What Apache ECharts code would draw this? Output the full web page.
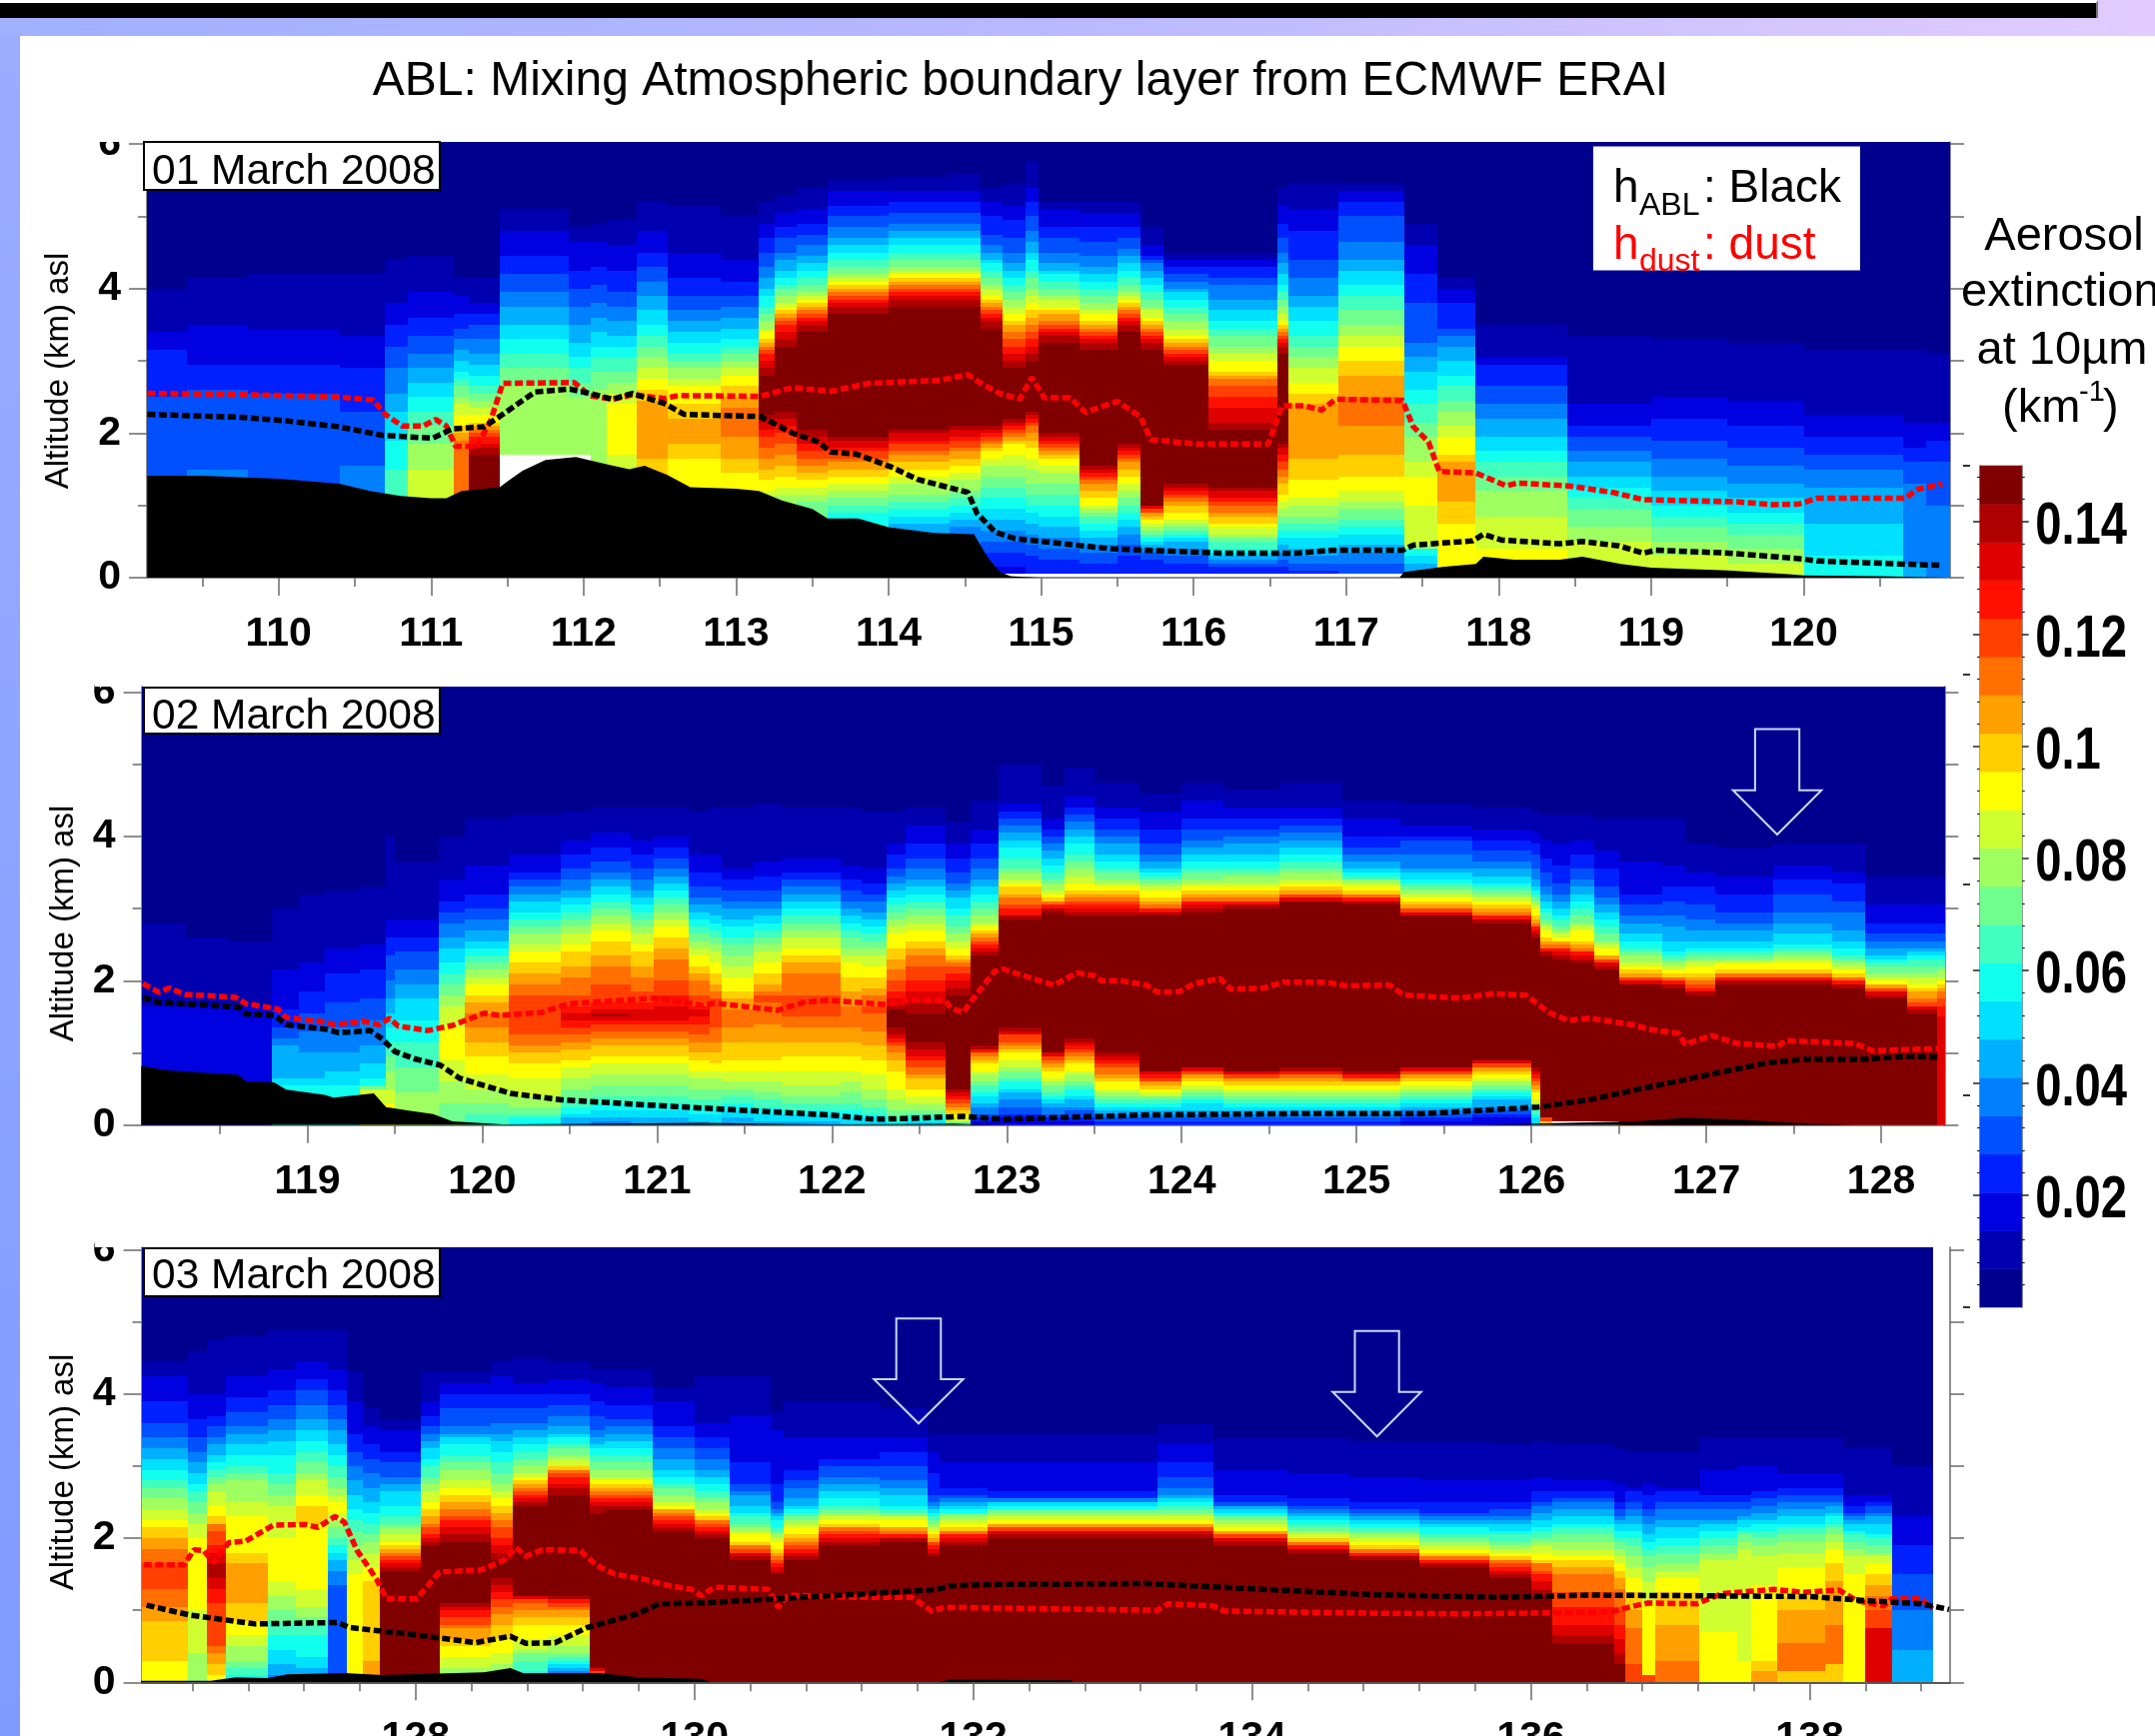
<!DOCTYPE html>
<html><head><meta charset="utf-8">
<script src="https://cdn.jsdelivr.net/npm/echarts@6/dist/echarts.min.js"></script>
<style>
html,body{margin:0;padding:0;background:#fff}
#wrap{position:relative;width:2156px;height:1737px;overflow:hidden;background:#fff}
#top{position:absolute;left:0;top:0;width:2156px;height:36px;background:linear-gradient(90deg,#a0b0ff,#b8b8ff 48%,#e2ccff)}
#left{position:absolute;left:0;top:36px;width:20px;height:1701px;background:linear-gradient(180deg,#9cacff,#7f9bff)}
#bar{position:absolute;left:0;top:0;width:2099px;height:18px;background:#000;border-top:3px solid #fff;box-sizing:border-box;border-right:2px solid #777}
#c{position:absolute;left:0;top:0;width:2156px;height:1737px}
</style></head><body>
<div id="wrap"><div id="top"></div><div id="left"></div><div id="bar"></div><div id="c"></div></div>
<script>
// Colour levels of the extinction scale (bottom to top), letters a..v in the profile tables
const levelColors=['#00008f','#0000b0','#0000e0','#0020ff','#0050ff','#0080ff','#00b0ff','#00e0ff','#10ffef','#40ffbf','#70ff8f','#9fff60','#cfff30','#ffff00','#ffcf00','#ff9f00','#ff7000','#ff4000','#ff1000','#df0000','#af0000','#800000'];
const barMax=0.15, barLabels=[0.02,0.04,0.06,0.08,0.1,0.12,0.14];
const barMinor=[0.004,0.008,0.012,0.016,0.024,0.028,0.032,0.036,0.044,0.048,0.052,0.056,0.064,0.068,0.072,0.076,0.084,0.088,0.092,0.096,0.104,0.108,0.112,0.116,0.124,0.128,0.132,0.136,0.144,0.148];

// Profile tables: "lonEnd:" then letter+top altitude of that band, in units of 0.05 km
// "." = hidden under the terrain, "_" = no data (white)
const p1Profile=[
"109.4:.28e50d63c68b80","109.8:.28f30e52d59c70b83","110.4:.27e51d59c69b84","110.7:.25f31e46d58c67b84",
"110.85:.23j30i38h46g51f58e64d70c76b88","111.15:.22m30l37k42j46i50h54g58f62e67d72c79b89",
"111.25:.24q38p40o42n45m48l50k53j55i57h60g63f66e69d73c78b83",
"111.45:.24v34u36t37s39r40q41p42o43n45m47l49k51j53i56h59g62f66e70d73c76b83",
"111.9:_34l53k58j62i66h70g75f79e84d89c96b102","112.05:_34l50k54j58i61h65g70f75e80d85c93b97",
"112.15:.32l52k57j61i64h68g72f76e81d86c93b98","112.35:.30m34n48m51l54k57j61i64h67g71f75e79d85c92b99",
"112.55:.29o33p49o52n55m58l61k64j67i70h74g78f82e86d90c96b104","112.9:.25n33o37p44o48n53m55l58k60j62i65h68g71f74e78d83c90b103",
"113.15:.24n29o33p39q47p50o53n56m58l60k62j64i66h69g72f75e78d82c88b100",
"113.25:.22m24n27o30p33q36r39s41t43u45v56u58t60s62r63q64p65o66n68m69l71k73j75i78h80g83f86e90d94c98b104",
"113.4:.21l23m25n28o31p34q37r40s42t44u46v64u66t68s70r71q72p73o74n75m76l78k80j81i83h85g88f90e94d97c101b106",
"113.6:.18k21l23m25n27o29p31q33r35s37t39u41v68u70t71s72r73q74p75o76n77m78l79k81j83i85h87g89f92e95d98c102b108",
"114:.16i18j20k22l24m26n28o30p32q33r35s36t38u39v73u75t76s77r78q79p80o81n82m83l84k86j88i90h92g94f97e100d103c107b110",
"114.4:.13g15h17i19j21k23l26m28n30o32p34q35r37s38t40u41v75u77t78s79r80q81p82o83n84m85l86k88j90i92h94g96f98e101d104c107b111",
"114.6:.12f14g16h18i20j22k24l27m29n31o33p35q36r38s39t41u42v75u77t78s79r80q81p82o83n84m85l86k88j90i92h94g96f98e101d104c107b112",
"114.75:c3d7e10f13g16h19i22j25k28l31m33n35o36p37q38r39s40t41u42v69u71t72s73r74q75p76o77n78m80l81k83j85i87h88g90f92e95d100c104b108",
"114.9:_1c3d7e10f13g16h19i22j25k28l31m34n37o38p39q40r41s42t43u44v58u60t62s64r66q68p70o71n73m75l77k79j81i83h85g87f90e94d99c103b109",
"114.98:_1d6e9f12g15h18i20j23k26l30m33n36o38p40q42r43s44t45u46v60u62t64s66r68q70p72o74n76m78l80k83j85i88h90g93f96e100d104c108b115",
"115.25:_1d5e8f11g14h17i20j23k26l29m31n33o34p35q36r37s38t39u40v65u67t68s69r70q71p73o74n75m77l78k80j82i84h85g87f90e94d97c102b104",
"115.5:_1d4e7f9g11h13i15j17k18l19m20n22o24p26q27r28s29t30u31v63u65t66s67r68q69p70o71n73m74l76k78j80i82h84g86f89e93d97c101b104",
"115.65:_1d6e9f12g14h16i18j20k22l24m26n28o30p32q33r34s35t36u37v68u70t71s72r73q74p75o76n77m78l79k81j83i85h87g89f91e94d97c101b104",
"115.8:_1d5e7f8g9h10i11j12k13l14m15n16o17p18q18r19s19t20u20v63u65t66s67r68q69p70o71n72m74l75k77j79i81h83g85f87e88d89c92b97",
"116.1:_1d4e6f8g10h11i12j13k14l15m16n18o20p21q22r23s24t25u26v59u60t61s62r63q64p65o66n67m69l71k73j75i77h79g80f82e84d86c88b90",
"116.55:_1d3e4f5g6h7i8j10k11l12m14n15o17p18q20r21s22t24u25v41u43t47s50r53q55p56o57n60m62l64k67j69i71h74g77f81e83d86c88b90",
"116.62:_1d3e5f7g9h11i13j15k17l19m21n23o26p28q30r32s34t36u37v62u64t65s66r67q68p69o70n71m73l75k77j79i81h84g87f90e94d98c103b108",
"116.95:_1d2e4f6g8h11i13j15k17l20m22n27o33p48o51n54m58l61k64j67i71h75g78f83e88d96c102b109",
"117.38:_1e4f7g9h12i14j16k19l21m24n28o34p42q50p56o60n64m67l70k74j78i81h85g88f93e100d104c107b109",
"117.6:.3g4h6i8l9m20n28m32l39k43j48i52h57g61f65e76d84c92b98",
"117.85:.5n15o21p32o34n39m42l46k49j53i56h60g64f67e69d76c80b83",
"118.45:.6n8m17l24k28j32i35h39g44f48e53d59c61b70",
"119:.5m10l14k19j22i25h28g32f35e39d42c48b67",
"119.5:.3m6l10k14j17i20h24g28f33e38d44c50b66",
"120:.2m4l8k12j15i18h22g26f31e36d42c49b65",
"120.65:.1i6h15g25f30e34d39c45b63",
"120.8:.1g4f26e32d36c43b63",
"121:f20e32d38c43b62"];
const p2Profile=[
"118.3:.15c33b56","118.55:.14c33b52","118.8:.12c33b51","118.95:.10i11h13g22f24e27d32c43b60",
"119.1:.9i11h13g20f26e31d37c45b64","119.3:.9i11h15g20f27e34d42c49b65","119.45:.9m10k11i13h17g22f29e35d43c50b66",
"119.5:.5n6m10l15k19j23i27h31g35f40e47d52c57b80","119.75:.3l9k16j23i29h35g39f43e48d52c57b73",
"119.9:.1k6l12m18n27m33l36k39j42i45h49g52f56e59d62c68b80",
"120.15:j3k6l10m14n19o23p27q31p34o36n39m41l43k45j47i49h51g54f57e60d64c72b85",
"120.45:i2j3k5l8m13n17o20p22q25r36q39p42o45n48m50l53k55j57i59h62g64f66e68d70c75b86",
"120.62:g2h3i5j7k10l13m16n18o21p23q25r27s29t31s33r36q41p44o48n50m53l55k57j59i61h63g65f68e71d75c79b87",
"120.85:f1g2h4i6j8k11l14m17n19o22p24q26r28s29t30u31t32s34r39q44p47o51n54m56l58k60j62i64h66g68f70e73d77c81b88",
"120.98:g2h4i6j8k11l14m17n19o22p24q26r28s29t32s34r37q41p44o48n50m53l55k57j59i61h63g65f68e71d75c79b88",
"121.18:g2h4i6j8k11l14m17n19o22p24q26r28s29t33s36r40q46p49o52n55m57l59k61j63i65h67g69f71e74d77c80b88",
"121.3:g1h3i5j7k10l13m15n18o20p23q25r28s30t32s33r36q40p42o44n47m49l51k53j55i57h59g61f63e66d70c75b87",
"121.37:h3i5j7k10l13m15n17o20p23q27r35q37p39o42n45m48l50k52j54i56h58g61f63e66d70c75b88",
"121.55:g2h4i6j8k10l12m15n18o23p27q32p35o37n41m44l47k50j52i55h57g60f62e65d68c71b88",
"121.71:g1h3i5j7k9l12m15n18o23p28q34r36q37p39o42n45m48l50k52j54i56h58g60f62e65d69c73b89",
"122.05:g1h3i4j6k8l11m15n19o23p27q30r36q42p45o47n49m52l54k56j58i60h62g64f66e68d70c74b88",
"122.17:h2i4j6k9l12m15n19o23p27q33p37o41n45m47l49k52j54i56h58g60f62e65d68c72b88",
"122.31:h2i3j5k7l10m14n18o22p26q31r33q36p38o41n44m47l49k51j53i55h57g59f62e64d67c71b87",
"122.42:i1j2k4l7m10n15o18p20q22r23s24t25u27v32u33t35s37r40q43p46o49n53m55l57k59j61i63h65g67f69e71d75c78b87",
"122.65:h1i2j3k4l6m8n10o13p14q16r18s19t21u23v31u34t37s40r44q47p49o51n54m56l58k60j62i64h66g68f71e74d78c83b88",
"122.79:k1m2n3o4p5q6r7s8t9u10v36u38t40s42r44q45p46o47n49m51l53k55j58i60h63g65f67e70d74c78b84",
"122.95:c1d2e3f5g6h8i9j11k12l14m15n17o18p19q20r20s21t21u22v47u48t49s50r51q52p53o54n55m56l58k60j62i64h66g68f71e74d78c82b90",
"123.2:c2d3e5f7g9h10i12j13k15l16m18n20o21p22q23r25s25t26u27v57u58t58s60r61q63p64o66n67m68l70k71j74i77h79g81f83e85d87c89b100",
"123.33:c1d2e3f5g6h7i8j9k11l12m13n15o16p17q18r19s19t20u20v59u60t60s61r61q62p62o63n64m65l67k68j70i72h74g76f78e80d82c85b94",
"123.5:c1d2e4f5g7h8i10j11k12l14m15n17o18p19q20r21s22t23u24v58u59t60s61r62q63p64o65n67m69l71k73j75i78h80g82f84e86d88c91b99",
"123.76:d1e2f3g4h5i6j7k8l9m10n12o13p14q16r17s18t19u20v58u59t60s61r62q63p64o65n66m67l68k70j71i73h75g78f80e82d85c88b95",
"124:d1e2f3g4h5i6j7k8l8m9n10o11p12q12r13s14t15u15v58u59t59s60r60q61p62o63n65m66l67k68j69i70h71g73f75e78d82c87b92",
"124.24:d1e2f3g4h6i7j8k9l10m11n12o13p14q14r15s15t16u16v59u60t61s62r62q63p64o65n66m67l68k70j71i73h75g77f79e82d85c90b95",
"124.56:d1e2f3g4h5i6j7k8l9m10n11o12p13q13r14s14t15u15v60u61t61s62r62q63p64o65n66m67l69k70j71i73h75g78f80e82d85c88b93",
"124.92:d1e2f3g4h5i6j7k8l9m10n11o12p13q14r14s15t15u16v62u62t63s63r64q64p65o66n67m68l70k71j73i75h77g79f81e83d85c88b95",
"125.25:d1e2f3g4h5i6j7k8l9m10n11o12p12q13r13s14t14u15v61u62t62s63r63q64p64o65n66m67l68k68j69i70h71g73f75e77d80c85b90",
"125.66:c1d2e3f4g5h6i7j8k9l10m11n12o13p14q14r15s15t16u16v58u58t59s59r60q60p61o62n63m64l65k66j67i68h70g71f75e79d80c83b89",
"126:c2d3e4f5g7h8i9j10k11l12m13n14o15p16q16r17s17t18u18v56u57t57s58r58q59p60o61n62m63l64k65j66i67h69g71f73e76d79c82b88",
"126.05:h2i3j4k5l6m7n9o10p11q12r13s14t15u16v52u53t54s55r55q56p57o58n60m61l62k63j64i65h66g68f71e75d78c81b87",
"126.12:o1r2t2v47u48t48s49r49q50p51o52n54m55l56k57j59i60h62g64f66e70d74c79b86",
"126.22:_1v46u47t48s49r49q50p51o51n52m53l54k55j57i58h60g62f64e67d72c78b86",
"126.36:_1v45u46t47s48r48q49p50o51n54m55l56k58j60i62h64g66f68e71d75c79b86",
"126.5:_1v43u44t45s45r46q46p47o47n49m50l51k53j55i57h59g61f63e66d71c76b85",
"126.75:.1v39u39t40s40r41q41p42o43n44m45l47k48j49i51h53g56f58e61d64c73b85",
"126.88:.1v38u39t39s40r40q41p41o42n43m44l45k46j47i48h51g55f58e62d66c72b85",
"127.05:.1v36u37t37s38r39q40p41o42n44m45l46k47j48i49h51g54f57e61d66c70b78",
"127.38:.1v39u40t40s41r41q42p42o43n45m45l46k47j48i49h51g54f56e59d64c69b77",
"127.72:.1v39u40t40s41r41q42p42o43n45m46l47k48j49i50h53g56f59e64d68c72b78",
"127.91:.1v38u39t39s40r40q41p41o42n43m44l45k46j47i49h51g54f59e62d67c70b78",
"128.15:.1v35u36t37s37r38q38p39o39n40m41l42k44j45i46h47g49f51e53d56c61b69",
"128.32:.1v31u32t33s33r34q35p37o38n39m41l42k44j46i47h48g49f51e53d56c61b69",
"128.5:t30s33r35q37p38o39n40m41l43k44j46i47h48g49f51e53d56c61b69"];
const p3Profile=[
"126.37:.1n6o17p21q26r33q37p40o43n45m48l51k54j56i59h62g65f68e72d78c85b89",
"126.5:.1l8m20n40m44l47k50j53i55h58g61f64e68d73c80b92",
"126.64:n2o5p8q10r22s26t29u33t36s38r42q44o46n49m53l55k57j59i61h63g66f68e71d74c80b95",
"126.94:i2j4k6l10m13n17o22p33o36n46m50l56k58j60i63h66g69f71e75d79c85b96",
"127.14:f2g5h9i13j17k20l24m28n40m49l52k55j58i63h67g70f73e77d81c87b98",
"127.37:f2g4h7i13j16k18l21m26n44o49n52m56l58k61j64i67h70g73f77e81d84c89b98",
"127.51:e27f31g34h36i38j40k43l45m47n50m52l54k57j60i63h66g70f73e77d81c87b98",
"127.62:.3n30m34l38k42j45i48h52g56f60e64d69c78b86",
"127.74:.3p6o28n32m36l39k41j44i47h50g54f58e62d66c71b76",
"128.04:.3v31u32t33s34r35q36p37o38n39m41l43k44j46i49h53g55f57e61d64c70b73",
"128.17:.3v38u39t40s41r43q44p46o48n50m53l55k57j60i62h65g67f69e71d74c78b86",
"128.54:.1k2l4m7n10o12p15q16r18s20t21u22v39u41t43s45r46q48p50o52n54m56l59k61j63i66h68g69f71e76d80c83b86",
"128.7:.1l5m8n12o16p19q21r23s25t27u29v34u36t38s40r43q45p47o49n51m53l55k58j61i64h67g69f72e76d80c85b89",
"128.95:.1i3j6k8l9m12n16o18p20q22r23s23t24u24v49u50t51s52r53q54p55o56n57m58l60k62j64i66h68g70f72e76d80c83b90",
"129.25:.1f3g4h5i6j7k8l10m13n16o18p20q21r22s23t23u24v52u54t55s57r58q59p59o60n60m62l63k65j66i68h69g71f74e77d80c84b89",
"129.36:p1q2r3s3t4u4v47u49t50s51r52q53p54o55n56m57l59k61j63i65h66g68f70e74d78c83b87",
"129.7:v48u49t50s51r52q53p54o55n56m57l59k61j63i65h67g69f71e73d77c82b87",
"130:v42u43t44s45r46q47p48o48n49m50l52k54j55i57h59g62f65e68d71c78b82",
"130.25:v40u41t42s43r44q45p45o46n47m48l50k51j53i55h57g59f62e65d68c72b85",
"130.55:v34u35t36s36r37q38p38o39n41m42l43k44j46i47h49g52f53e55d61c74b85",
"130.64:v30u31t32s33r34q35p36o37n39m40l41k42j43i45h46g47f48e50d55c70b75",
"130.89:v34u35t36s37r38q39p40o41n43m44l45k46j47i48h49g51f54e56d59c68b78",
"131.33:v38u39t40s41r42q43p43o44n45m46l47k48j49i51h53g55f57e60d62c68b78",
"131.67:v39u40t40s41r41q42p43o43n45m46l46k47j48i49h52g54f56e60d64c68b76",
"131.76:v35u36t37s38r39q39p40o41n42m43l44k45j46i47h48g49f50e52d58c64b69",
"132.1:v38u39t40s41r41q42p42o43n44m45l46k47j47i48h49g50f51e52d54c61b69",
"133.32:v40u41t42s42r43q43p44o44n45m46l47k48j48i49h50g50f51e51d53c61b69",
"133.72:v40u41t42s42r43q43p44o44n45m46l47k48j49i50h51g52f54e57d61c66b72",
"134.25:v38u39t40s40r41q41p42o42n43m44l45k46j46i47h48g49f49e50d52c59b68",
"134.7:v36u37t37s38r38q39p39o40n40m41l42k43j44i45h46g47f48e49d51c58b68",
"135.2:v34u35t35s36r36q37p37o38n39m40l41k42j43i44h45g46f47e48d50c57b67",
"135.7:v32u33t33s34r34q35p35o36n37m38l39k40j41i43h44g45f46e47d50c56b67",
"136:v29u30t31s32r33q34p34o35n36m37l38k39j41i42h44g45f46e48d50c56b66",
"136.15:v24u26t28s30r31q33p33o34n36m38l39k40j42i43h45g47f49e50d53c57b67",
"136.6:v11u13t16s21r25q30p32o34n35m37l39k41j43i44h46g48f50e51d53c56b66",
"136.68:v5u8t12s16r21q26p29o31n33m35l37k39j40i42h44g45f46e48d50c55b65",
"136.8:r5q15p20o25n29m32l35k38j40i42h44g46f48e50d53c54b64",
"136.89:r2n22m28l32k35j37i39h41g44f46e48d52c55b64",
"137.21:q6p16o25n29m31l33k36j38i40h43g45f48e50d53c54b64",
"137.48:n14m34l36k38j40i42h44g45f48e50d52c59b68",
"137.58:n6m37l39k41j42i43h45g46f48e50d52c60b68",
"137.77:p3o6n27m35l38k40j42i44h45g47f49e51d53c60b68",
"138.11:o3q11p20o24n32m36l39k41j43i44h46g48f50e52d54c58b68",
"138.24:o5q16p28o33n37m39l41k43j44i46h47g49f50e52d54c58b68",
"138.4:n30m35l37k39j41i42h44g45f46e47d49c52b65",
"138.59:t15r20q24p27o30n33m35l36k38j40i41h44g46f47e49d50c52b65",
"138.888:g9f20e30d38c46b60"];

// Terrain, mixing-layer top (ABL) and dust-layer top, [longitude, altitude km]
const p1Terrain=[[109.14,1.41],[109.5,1.41],[110,1.37],[110.4,1.3],[110.6,1.2],[110.8,1.13],[111,1.1],[111.1,1.1],[111.2,1.2],[111.45,1.25],[111.5,1.33],[111.6,1.48],[111.75,1.63],[111.95,1.67],[112.15,1.57],[112.3,1.5],[112.4,1.55],[112.55,1.42],[112.7,1.25],[113,1.23],[113.15,1.2],[113.3,1.07],[113.5,.95],[113.6,.82],[113.8,.82],[114,.7],[114.3,.62],[114.56,.6],[114.65,.28],[114.73,.08],[114.8,.02],[115,0],[117.35,0],[117.38,.08],[117.63,.15],[117.85,.19],[117.9,.29],[118.1,.25],[118.4,.25],[118.55,.29],[118.8,.19],[119,.14],[119.5,.1],[119.9,.05],[120,.03],[120.5,.02],[120.96,0]];
const p1Dust=[[109.14,2.55],[109.64,2.54],[110.05,2.52],[110.39,2.5],[110.62,2.46],[110.7,2.26],[110.81,2.1],[110.95,2.1],[111.03,2.19],[111.1,2.1],[111.16,1.82],[111.3,1.82],[111.39,2.17],[111.47,2.69],[111.94,2.7],[112.04,2.52],[112.19,2.47],[112.32,2.53],[112.53,2.48],[112.62,2.52],[113.16,2.51],[113.37,2.63],[113.62,2.58],[113.87,2.69],[114.33,2.73],[114.52,2.81],[114.62,2.67],[114.73,2.55],[114.86,2.47],[114.94,2.77],[115.02,2.49],[115.19,2.49],[115.29,2.29],[115.5,2.44],[115.65,2.23],[115.72,1.91],[116.03,1.85],[116.49,1.85],[116.58,2.38],[116.72,2.38],[116.84,2.32],[116.93,2.47],[117.37,2.45],[117.44,2.09],[117.54,1.88],[117.61,1.47],[117.85,1.45],[118.05,1.27],[118.12,1.31],[118.46,1.27],[118.75,1.18],[118.95,1.08],[119.56,1.05],[119.8,1.01],[119.97,1.02],[120.09,1.1],[120.67,1.1],[120.74,1.22],[120.91,1.3]];
const p1Abl=[[109.14,2.26],[109.75,2.22],[110.05,2.17],[110.39,2.09],[110.68,1.97],[111.01,1.93],[111.14,2.06],[111.35,2.09],[111.47,2.26],[111.68,2.57],[111.91,2.61],[112.04,2.55],[112.19,2.47],[112.32,2.55],[112.53,2.41],[112.66,2.26],[113.16,2.23],[113.37,2],[113.54,1.88],[113.62,1.74],[113.79,1.71],[114.02,1.53],[114.19,1.36],[114.52,1.18],[114.58,.89],[114.7,.63],[114.83,.54],[115.46,.4],[116.18,.34],[116.67,.34],[116.91,.38],[117.37,.38],[117.44,.45],[117.83,.51],[117.9,.6],[118.02,.52],[118.4,.47],[118.55,.5],[118.79,.44],[118.95,.34],[119.03,.38],[119.51,.34],[119.99,.26],[120.09,.23],[120.91,.17]];
const p2Terrain=[[118.05,.82],[118.19,.76],[118.44,.72],[118.6,.7],[118.65,.61],[118.81,.59],[118.88,.49],[119.1,.42],[119.15,.38],[119.38,.44],[119.45,.25],[119.58,.2],[119.72,.15],[119.83,.05],[120.12,.01],[121.26,.03],[121.98,.01],[122.7,.02],[123,0],[125.7,0],[126,.02],[126.6,.05],[126.88,.1],[127.17,.08],[127.5,.03],[127.85,0],[128.36,0]];
const p2Dust=[[118.06,1.96],[118.15,1.84],[118.21,1.9],[118.3,1.81],[118.59,1.77],[118.65,1.68],[118.83,1.61],[118.88,1.49],[119.07,1.44],[119.16,1.39],[119.32,1.44],[119.41,1.39],[119.47,1.48],[119.52,1.37],[119.69,1.31],[119.83,1.38],[120.01,1.55],[120.1,1.52],[120.34,1.56],[120.49,1.68],[121,1.76],[121.26,1.66],[121.33,1.69],[121.69,1.59],[121.84,1.7],[121.98,1.73],[122.31,1.67],[122.44,1.73],[122.65,1.72],[122.68,1.62],[122.75,1.56],[122.81,1.76],[122.93,2.13],[122.98,2.16],[123.08,2.08],[123.27,1.94],[123.4,2.11],[123.5,2.07],[123.54,2],[123.65,2],[123.8,1.94],[123.86,1.84],[123.99,1.85],[124.07,1.96],[124.22,2.03],[124.28,1.88],[124.47,1.9],[124.58,1.98],[124.82,1.98],[124.94,1.93],[125.19,1.94],[125.27,1.8],[125.59,1.76],[125.78,1.82],[125.97,1.8],[126.1,1.56],[126.21,1.45],[126.33,1.48],[126.58,1.39],[126.67,1.33],[126.84,1.27],[126.88,1.12],[127.03,1.24],[127.18,1.13],[127.41,1.09],[127.45,1.17],[127.85,1.13],[127.95,1.03],[128.33,1.06]];
const p2Abl=[[118.06,1.77],[118.15,1.7],[118.5,1.65],[118.61,1.63],[118.65,1.54],[118.81,1.52],[118.88,1.39],[119.1,1.33],[119.18,1.28],[119.36,1.31],[119.43,1.19],[119.5,1.02],[119.61,.92],[119.76,.83],[119.87,.65],[120.16,.44],[120.45,.35],[121,.27],[121.98,.14],[122.24,.08],[122.42,.09],[122.75,.12],[122.98,.08],[123.8,.14],[124.77,.16],[125.4,.16],[126.04,.25],[126.33,.35],[126.62,.5],[126.96,.67],[127.34,.86],[127.55,.91],[127.89,.91],[128.14,.95],[128.33,.94]];
const p3Terrain=[[126.03,.02],[126.53,.02],[126.71,.07],[126.94,.06],[127.08,.11],[127.49,.13],[127.76,.1],[128.49,.14],[128.68,.2],[128.77,.13],[129.32,.13],[129.59,.07],[130.05,.05],[130.12,0],[131.74,0],[131.84,.04],[132.7,.03],[132.72,0],[138.89,0]];
const p3Dust=[[126.05,1.63],[126.34,1.63],[126.41,1.84],[126.48,1.83],[126.55,1.66],[126.66,1.94],[126.78,1.96],[126.87,2.06],[126.98,2.18],[127.21,2.19],[127.3,2.15],[127.42,2.3],[127.49,2.22],[127.58,1.83],[127.72,1.43],[127.79,1.16],[128.01,1.16],[128.17,1.53],[128.47,1.56],[128.63,1.69],[128.72,1.87],[128.79,1.75],[128.91,1.84],[129.18,1.83],[129.3,1.62],[129.43,1.5],[129.64,1.43],[129.82,1.34],[129.98,1.29],[130.05,1.2],[130.14,1.32],[130.53,1.29],[130.6,1.04],[130.67,1.21],[131.15,1.18],[131.56,1.18],[131.7,.99],[131.79,1.04],[132.19,1.03],[133.32,1],[133.4,1.09],[133.72,1.06],[133.8,.99],[134.83,.96],[135.47,.95],[136,.96],[136.58,.98],[136.74,1.06],[136.84,1.1],[137.19,1.09],[137.37,1.23],[137.74,1.29],[137.95,1.25],[138.21,1.28],[138.34,1.13],[138.53,1.06],[138.59,1.16],[138.8,1.16],[138.88,1.02]];
const p3Abl=[[126.07,1.07],[126.39,.93],[126.85,.81],[127.44,.83],[127.53,.76],[127.99,.66],[128.43,.55],[128.68,.64],[128.79,.54],[129,.55],[129.23,.76],[129.59,.95],[129.75,1.09],[130.05,1.1],[130.6,1.16],[131.42,1.25],[131.74,1.29],[131.84,1.34],[132.19,1.36],[133.24,1.37],[133.77,1.32],[134.83,1.22],[135.78,1.18],[136.42,1.21],[137.26,1.2],[138,1.19],[138.43,1.13],[138.8,1.09],[139,1.01]];

const p1Major=[110,111,112,113,114,115,116,117,118,119,120];
const p1Minor=[109.5,110.5,111.5,112.5,113.5,114.5,115.5,116.5,117.5,118.5,119.5,120.5];
const p2Major=[119,120,121,122,123,124,125,126,127,128];
const p2Minor=[118.5,119.5,120.5,121.5,122.5,123.5,124.5,125.5,126.5,127.5];
const p3Major=[128,130,132,134,136,138];
const p3Minor=[126.4,126.8,127.2,127.6,128.4,128.8,129.2,129.6,130.4,130.8,131.2,131.6,132.4,132.8,133.2,133.6,134.4,134.8,135.2,135.6,136.4,136.8,137.2,137.6,138.4,138.8];
const altMajor=[0,2,4,6], altMinor=[1,3,5], altAll=[0,1,2,3,4,5,6];

const panels=[
 {profile:p1Profile,terrain:p1Terrain,dust:p1Dust,abl:p1Abl,major:p1Major,minor:p1Minor,left:147,top:142,right:1951,bottom:578,xMin:109.137,xMax:120.96,yMax:6.03,margin:36},
 {profile:p2Profile,terrain:p2Terrain,dust:p2Dust,abl:p2Abl,major:p2Major,minor:p2Minor,left:141.6,top:687,right:1945.4,bottom:1125.7,xMin:118.052,xMax:128.362,yMax:6.076,margin:36},
 {profile:p3Profile,terrain:p3Terrain,dust:p3Dust,abl:p3Abl,major:p3Major,minor:p3Minor,left:141.6,top:1248,right:1951,bottom:1683.3,xMin:126.034,xMax:139.007,yMax:6.037,margin:36}
];
const FF="'Liberation Sans',Arial,sans-serif", AX='#6a6a6a';

function cellsOf(p){
  const out=[]; let x0=p.xMin;
  p.profile.forEach(s=>{
    const [e,runs]=s.split(':'); const x1=+e; let prev=0; let m;
    const re=/([a-v._])(\d+)/g;
    while((m=re.exec(runs))){
      const top=+m[2]*0.05;
      if(m[1]==='.') continue;            // under the terrain: the next band runs down to the ground
      if(m[1]!=='_') out.push([x0,x1,prev,top,m[1].charCodeAt(0)-97]);
      prev=top;
    }
    out.push([x0,x1,prev,p.yMax,0]);
    x0=x1;
  });
  return out;
}
function renderCell(params,api){
  const a=api.coord([api.value(0),api.value(2)]), b=api.coord([api.value(1),api.value(3)]);
  const x=Math.round(a[0]),X=Math.round(b[0]),y=Math.round(b[1]),Y=Math.round(a[1]);
  return {type:'rect',shape:{x:x,y:y,width:X-x,height:Y-y},style:{fill:levelColors[api.value(4)]}};
}
function renderBar(params,api){
  const a=api.coord([0,api.value(0)]), b=api.coord([1,api.value(1)]);
  const c=levelColors[api.value(2)];
  return {type:'rect',shape:{x:a[0],y:b[1],width:b[0]-a[0],height:a[1]-b[1]},style:{fill:c,stroke:c,lineWidth:0.6}};
}
function renderBarLabel(params,api){
  const v=api.value(0), a=api.coord([1,v]);
  return {type:'text',x:a[0]+13.5,y:a[1]+6,scaleX:0.8,silent:true,
    style:{text:String(v),x:0,y:0,fill:'#000',font:'bold 59px '+FF,align:'left',verticalAlign:'middle'}};
}

const grid=[],xAxis=[],yAxis=[],series=[];
function tickStyle(c,w){return {color:c,width:w};}
panels.forEach((p,i)=>{
  grid.push({left:p.left,top:p.top,width:p.right-p.left,height:p.bottom-p.top,containLabel:false,outerBoundsMode:'none'});
  const xi=xAxis.length, yi=yAxis.length;
  xAxis.push({gridIndex:i,type:'value',min:p.xMin,max:p.xMax,position:'bottom',splitLine:{show:false},
    axisLine:{onZero:false,show:true,lineStyle:tickStyle(i==2?'#222':AX,1.5)},
    axisTick:{show:true,length:18,customValues:p.major,lineStyle:tickStyle(AX,1.5)},
    axisLabel:{show:true,customValues:p.major,margin:p.margin,color:'#000',fontFamily:FF,fontWeight:'bold',fontSize:41,hideOverlap:false,formatter:v=>String(v)}});
  xAxis.push({gridIndex:i,type:'value',min:p.xMin,max:p.xMax,position:'bottom',splitLine:{show:false},
    axisLine:{show:false,onZero:false},axisLabel:{show:false},
    axisTick:{show:true,length:9,customValues:p.minor,lineStyle:tickStyle(AX,1.5)}});
  yAxis.push({gridIndex:i,type:'value',min:0,max:p.yMax,position:'left',splitLine:{show:false},
    axisLine:{onZero:false,show:true,lineStyle:tickStyle(AX,1.5)},
    axisTick:{show:true,length:18,customValues:altMajor,lineStyle:tickStyle(AX,1.5)},
    axisLabel:{show:true,customValues:altMajor,margin:26,padding:[7,0,0,0],color:'#000',fontFamily:FF,fontWeight:'bold',fontSize:41,formatter:v=>String(v)}});
  yAxis.push({gridIndex:i,type:'value',min:0,max:p.yMax,position:'left',splitLine:{show:false},
    axisLine:{show:false,onZero:false},axisLabel:{show:false},
    axisTick:{show:true,length:9,customValues:altMinor,lineStyle:tickStyle(AX,1.5)}});
  yAxis.push({gridIndex:i,type:'value',min:0,max:p.yMax,position:'right',splitLine:{show:false},
    axisLine:{onZero:false,show:true,lineStyle:tickStyle(AX,1.5)},axisLabel:{show:false},
    axisTick:{show:true,length:14,customValues:altAll,lineStyle:tickStyle(AX,1.5)}});
  series.push({type:'custom',xAxisIndex:xi,yAxisIndex:yi,coordinateSystem:'cartesian2d',renderItem:renderCell,data:cellsOf(p),encode:{x:[0,1],y:[2,3]},clip:true,silent:true,z:1,animation:false,progressive:0});
  series.push({type:'line',name:'terrain',xAxisIndex:xi,yAxisIndex:yi,data:p.terrain,showSymbol:false,symbol:'none',lineStyle:{width:0},areaStyle:{color:'#000',opacity:1},z:2,silent:true,animation:false});
  series.push({type:'line',name:'hdust',xAxisIndex:xi,yAxisIndex:yi,data:p.dust,showSymbol:false,symbol:'none',lineStyle:{color:'#ff0000',width:5.5,type:[8,3.5]},z:3,silent:true,animation:false});
  series.push({type:'line',name:'hABL',xAxisIndex:xi,yAxisIndex:yi,data:p.abl,showSymbol:false,symbol:'none',lineStyle:{color:'#000',width:5.5,type:[8,3.5]},z:4,silent:true,animation:false});
});
// Colour bar
grid.push({left:1981,top:466,width:41.7,height:842,outerBoundsMode:'none'});
const gb=grid.length-1, xb=xAxis.length, yb=yAxis.length;
xAxis.push({gridIndex:gb,type:'value',min:0,max:1,show:false});
yAxis.push({gridIndex:gb,type:'value',min:0,max:barMax,position:'right',splitLine:{show:false},
  axisLine:{show:true,onZero:false,lineStyle:tickStyle('#777',1.5)},axisLabel:{show:false},
  axisTick:{show:true,length:7,customValues:barLabels,lineStyle:tickStyle('#222',1.5)}});
yAxis.push({gridIndex:gb,type:'value',min:0,max:barMax,position:'right',splitLine:{show:false},axisLine:{show:false,onZero:false},axisLabel:{show:false},
  axisTick:{show:true,length:3,customValues:barMinor,lineStyle:tickStyle('#222',1.2)}});
yAxis.push({gridIndex:gb,type:'value',min:0,max:barMax,position:'left',splitLine:{show:false},
  axisLine:{show:true,onZero:false,lineStyle:tickStyle('#777',1.5)},axisLabel:{show:false},
  axisTick:{show:true,length:7,customValues:barLabels,lineStyle:tickStyle('#222',1.5)}});
yAxis.push({gridIndex:gb,type:'value',min:0,max:barMax,position:'left',splitLine:{show:false},axisLine:{show:false,onZero:false},axisLabel:{show:false},
  axisTick:{show:true,length:3,customValues:barMinor,lineStyle:tickStyle('#222',1.2)}});
series.push({type:'custom',xAxisIndex:xb,yAxisIndex:yb,coordinateSystem:'cartesian2d',renderItem:renderBar,encode:{y:[0,1]},silent:true,animation:false,z:1,
  data:levelColors.map((c,k)=>[k*barMax/22,(k+1)*barMax/22,k])});
series.push({type:'custom',xAxisIndex:xb,yAxisIndex:yb,coordinateSystem:'cartesian2d',renderItem:renderBarLabel,encode:{y:0},silent:true,animation:false,z:5,clip:false,
  data:barLabels.map(v=>[v])});

// Text and annotations
function txt(t,x,base,fs,o){o=o||{};
  return {type:'text',z:100,x:x,y:base-0.35*fs,silent:true,rotation:o.rot||0,
    style:{text:t,x:0,y:0,fill:o.fill||'#000',font:(o.weight||'normal')+' '+fs+'px '+FF,align:o.align||'left',verticalAlign:'middle'}};
}
function rect(x,y,w,h,o){o=o||{};return {type:'rect',z:o.z||90,silent:true,shape:{x,y,width:w,height:h},style:{fill:o.fill||'#fff',stroke:o.stroke||null,lineWidth:o.lw||0}};}
function arrow(l,r,wl,wr,tip,t,sh,b){return {type:'polygon',z:95,silent:true,shape:{points:[[l,t],[r,t],[r,sh],[wr,sh],[tip,b],[wl,sh],[l,sh]]},style:{fill:'transparent',stroke:'#c8d8f8',lineWidth:2}};}
function rotText(t,x,y,fs){return {type:'text',z:100,x:x,y:y,rotation:Math.PI/2,silent:true,style:{text:t,x:0,y:0,fill:'#000',font:'normal '+fs+'px '+FF,align:'center',verticalAlign:'middle'}};}
const graphicEls=[
  // masks that cut the "6" tick labels at the top of each frame
  rect(95,100,52,42), rect(95,650,46,37), rect(95,1205,46,43),
  txt('ABL: Mixing Atmospheric boundary layer from ECMWF ERAI',1021,99,48,{align:'center'}),
  rect(144,142,296,48,{stroke:'#000',lw:2}), txt('01 March 2008',152,187,42.5),
  rect(144,688,296,46,{stroke:'#000',lw:2}), txt('02 March 2008',152,732,42.5),
  rect(144,1249,296,48,{stroke:'#000',lw:2}), txt('03 March 2008',152,1292,42.5),
  rect(1594,146.5,267,124),
  txt('h',1614,205,46), txt('ABL',1640,217,32), txt(': Black',1704,205,46),
  txt('h',1614,262,46,{fill:'#f00'}), txt('dust',1640,273,32,{fill:'#f00'}), txt(': dust',1704,262,46,{fill:'#f00'}),
  txt('Aerosol',2065,253,47,{align:'center'}), txt('extinction',1962,309,47), txt('at 10µm',2063,367,47,{align:'center'}),
  txt('(km',2003,425,47), txt('-1',2080,403,29), txt(')',2104,425,47),
  rotText('Altitude (km) asl',59,371,33), rotText('Altitude (km) asl',64,924,33), rotText('Altitude (km) asl',64,1473,33),
  arrow(1755.9,1800.2,1733.8,1822.3,1778,729.6,790.7,835),
  arrow(896.7,941.3,874.4,963.6,919,1319.3,1380,1424.3),
  arrow(1355.5,1399.7,1333.3,1421.8,1377.6,1331.7,1392.7,1437.3)
];
[466,675,885,1096,1308].forEach(y=>graphicEls.push(rect(1964,y-1,7,2,{fill:'#333'})));

const chart=echarts.init(document.getElementById('c'),null,{renderer:'canvas',width:2156,height:1737});
chart.setOption({animation:false,backgroundColor:'transparent',grid,xAxis,yAxis,series,graphic:{elements:graphicEls},tooltip:{show:false},legend:{show:false}});
</script></body></html>
